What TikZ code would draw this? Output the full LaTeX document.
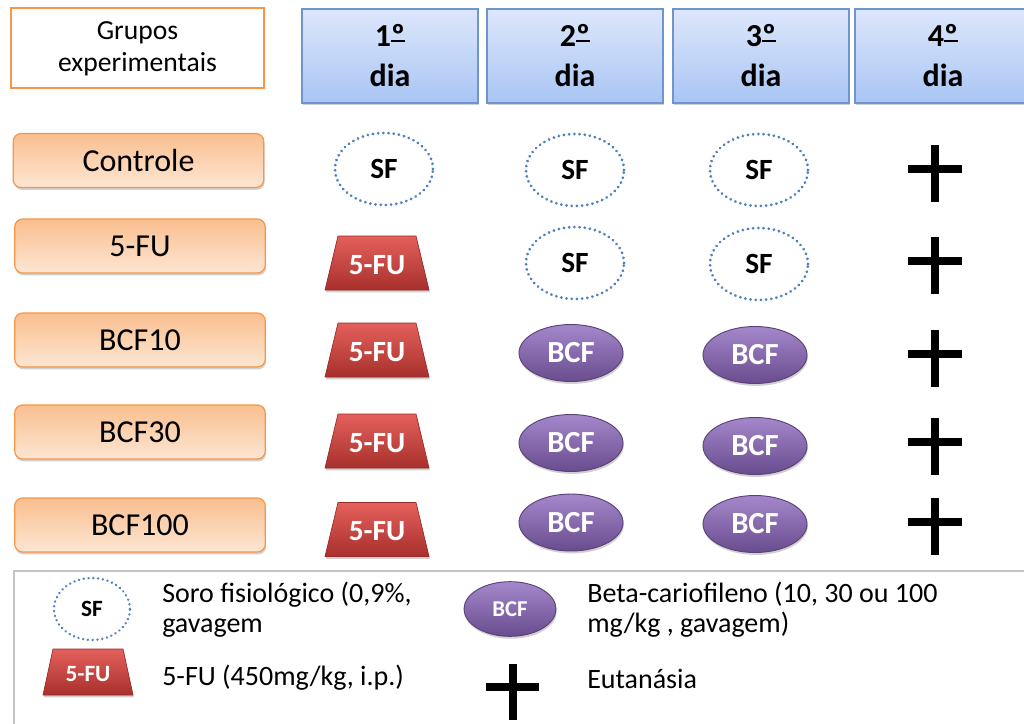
\documentclass[tikz,border=0pt]{standalone}
\usepackage{fontspec}
\setmainfont{Carlito}
\usetikzlibrary{shapes.geometric,shadows}
\definecolor{grpborder}{HTML}{F79646}
\definecolor{grptop}{HTML}{F9BF8F}
\definecolor{grpbot}{HTML}{FDE6D3}
\definecolor{hdrtop}{HTML}{DDE7FB}
\definecolor{hdrbot}{HTML}{A9C5F4}
\definecolor{hdrborder}{HTML}{6F96CC}
\definecolor{futop}{HTML}{E4605C}
\definecolor{fubot}{HTML}{A8302C}
\definecolor{fuborder}{HTML}{9B2A27}
\definecolor{bcftop}{HTML}{A588CB}
\definecolor{bcfbot}{HTML}{694C8E}
\definecolor{bcfborder}{HTML}{5A4278}
\definecolor{sfblue}{HTML}{4F81BD}
\definecolor{legborder}{HTML}{C4C4C4}
\newcommand\ordo{\setbox0\hbox{º}\rlap{\rule[0.14em]{\wd0}{0.075em}}º}
\tikzset{
  softshadow/.style={drop shadow={shadow xshift=0.6pt, shadow yshift=-1.8pt, opacity=0.3, fill=black!60}},
  grpbox/.style={draw=grpborder, line width=0.9pt, rounded corners=6pt,
    top color=grptop, bottom color=grpbot, minimum width=188pt, minimum height=40.5pt,
    inner sep=0pt, font=\fontsize{24}{28}\selectfont, softshadow},
  hdrbox/.style={draw=hdrborder, line width=0.9pt, top color=hdrtop, bottom color=hdrbot,
    minimum width=132pt, minimum height=70.5pt, inner sep=0pt, align=center,
    font=\bfseries\fontsize{24}{30}\selectfont, softshadow},
  sfnode/.style={ellipse, draw=sfblue, line width=2.3pt, dash pattern=on 0.01pt off 3.9pt,
    line cap=round, minimum width=73.5pt, minimum height=54pt, inner sep=0pt,
    font=\bfseries\fontsize{22}{26}\selectfont},
  bcfnode/.style={ellipse, draw=bcfborder, line width=0.7pt, top color=bcftop, bottom color=bcfbot,
    minimum width=78pt, minimum height=42.75pt, inner sep=0pt, text=white,
    font=\bfseries\fontsize{23}{26}\selectfont, softshadow},
  futrap/.style={top color=futop, bottom color=fubot, draw=fuborder, line width=0.5pt, softshadow},
  fulabel/.style={inner sep=0pt, text=white, font=\bfseries\fontsize{22}{26}\selectfont},
  crossln/.style={line width=6pt, line cap=butt, black},
  legtext/.style={anchor=base west, inner sep=0pt, font=\fontsize{21}{24}\selectfont}
}
% #1 name, #2 position, #3 bottom half width, #4 top half width, #5 half height
\newcommand\fushape[5]{%
  \coordinate (#1) at #2;
  \path[futrap] (#1) ++(-#3,#5) -- ++(2*#3,0) -- ++(#4-#3,-2*#5) -- ++(-2*#4,0) -- cycle;}
\begin{document}
\begin{tikzpicture}[x=0.75pt,y=-0.75pt]
\useasboundingbox (0,0) rectangle (1024,724);
\clip (0,0) rectangle (1024,724);
\fill[white] (0,0) rectangle (1024,724);

% top-left label
\node[draw=grpborder, line width=1.5pt, fill=white, minimum width=190pt, minimum height=60pt,
  align=center, inner sep=0pt, font=\fontsize{20.7}{24}\selectfont] (grupos) at (137.5,48.5)
  {Grupos\\experimentais};

% day headers
\node[hdrbox] (d1) at (390,56) {1\ordo\\dia};
\node[hdrbox] (d2) at (575,56) {2\ordo\\dia};
\node[hdrbox] (d3) at (761,56) {3\ordo\\dia};
\node[hdrbox] (d4) at (943,56) {4\ordo\\dia};

% group labels
\node[grpbox] (gc) at (138.5,160.5) {Controle};
\node[grpbox] (gf) at (140,246) {5-FU};
\node[grpbox] (g10) at (140,340) {BCF10};
\node[grpbox] (g30) at (140,432) {BCF30};
\node[grpbox] (g100) at (140,525) {BCF100};

% row 1: Controle
\node[sfnode] (c1) at (384,169) {SF};
\node[sfnode] (c2) at (575,170) {SF};
\node[sfnode] (c3) at (759,170) {SF};
% row 2: 5-FU
\fushape{f1}{(377,263)}{52}{39}{27}
\node[fulabel] (f1t) at (377,265) {5-FU};
\node[sfnode] (f2) at (575,263) {SF};
\node[sfnode] (f3) at (759,264) {SF};
% row 3: BCF10
\fushape{a1}{(377,350)}{52}{39}{27}
\node[fulabel] (a1t) at (377,352) {5-FU};
\node[bcfnode] (a2) at (571,353) {BCF};
\node[bcfnode] (a3) at (755,355) {BCF};
% row 4: BCF30
\fushape{b1}{(377,441)}{52}{39}{27}
\node[fulabel] (b1t) at (377,443) {5-FU};
\node[bcfnode] (b2) at (571,443) {BCF};
\node[bcfnode] (b3) at (755,446) {BCF};
% row 5: BCF100
\fushape{e1}{(377,529.5)}{52}{39}{27}
\node[fulabel] (e1t) at (377,531.5) {5-FU};
\node[bcfnode] (e2) at (571,522.5) {BCF};
\node[bcfnode] (e3) at (755,524) {BCF};

% crosses (4th day)
\coordinate (k1) at (935,169);
\coordinate (k2) at (935,261);
\coordinate (k3) at (935,354);
\coordinate (k4) at (935,442);
\coordinate (k5) at (935,522);
\foreach \k in {k1,k2,k3,k4,k5}{
  \draw[crossln] (\k) ++(0,-24) -- ++(0,57);
  \draw[crossln] (\k) ++(-27,0) -- ++(54,0);
}

% legend
\draw[legborder, line width=1.5pt] (14,571) rectangle (1040,740);
\node[sfnode, minimum width=57pt, minimum height=46.5pt, line width=2pt, dash pattern=on 0.01pt off 3.6pt,
  font=\bfseries\fontsize{17.5}{20}\selectfont] (lsf) at (92,609) {SF};
\node[legtext] (lsft1) at (162,602) {Soro fisiológico (0,9\%,};
\node[legtext] (lsft2) at (162,632) {gavagem};
\fushape{lfu}{(88,672)}{45}{35}{23}
\node[fulabel, font=\bfseries\fontsize{17.5}{20}\selectfont] (lfut0) at (88,674) {5-FU};
\node[legtext] (lfut) at (162,685) {5-FU (450mg/kg, i.p.)};
\node[bcfnode, minimum width=69pt, minimum height=41pt,
  font=\bfseries\fontsize{17}{20}\selectfont] (lbcf) at (510,609) {BCF};
\node[legtext] (lbcft1) at (587,602) {Beta-cariofileno (10, 30 ou 100};
\node[legtext] (lbcft2) at (587,632) {mg/kg , gavagem)};
\coordinate (lk) at (513,687);
\draw[crossln] (lk) ++(0,-23) -- ++(0,56);
\draw[crossln] (lk) ++(-27,0) -- ++(53,0);
\node[legtext] (leut) at (587,688) {Eutanásia};
\end{tikzpicture}
\end{document}
